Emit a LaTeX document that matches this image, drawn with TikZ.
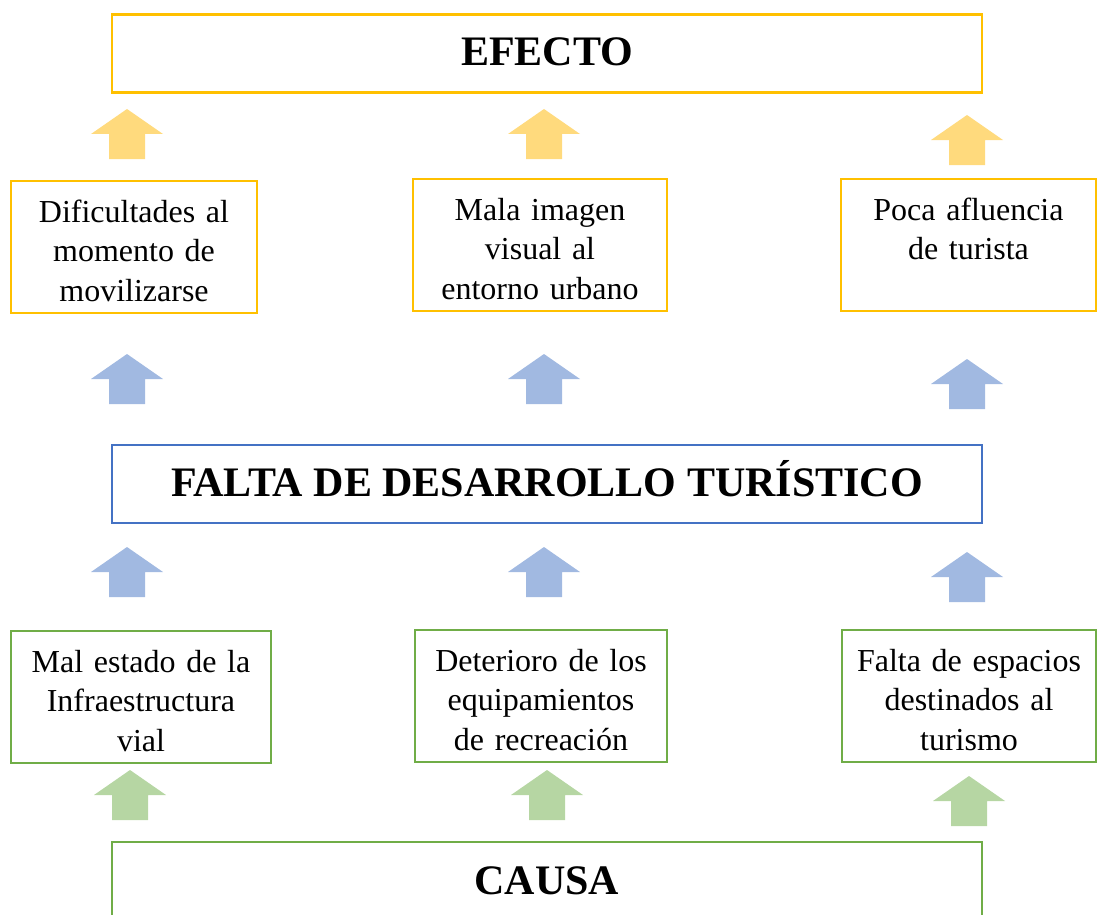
\documentclass[tikz,border=0pt]{standalone}
\usepackage{fontspec}
\setmainfont{Liberation Serif}
\usetikzlibrary{calc}
\definecolor{efeline}{HTML}{FFC000}
\definecolor{efearrow}{HTML}{FFDA7D}
\definecolor{proline}{HTML}{4472C4}
\definecolor{proarrow}{HTML}{A1B9E1}
\definecolor{cauline}{HTML}{70AD47}
\definecolor{cauarrow}{HTML}{B6D6A3}
\def\blockarrow[#1](#2,#3){\fill[#1] (#2,#3) -- ++(36,25) -- ++(-18,0) -- ++(0,25) -- ++(-36,0) -- ++(0,-25) -- ++(-18,0) -- cycle;}
\tikzset{
	titlebox/.style={draw=#1, line width=2.2pt, minimum width=870pt, minimum height=78pt, inner sep=0pt, text height=28pt, text depth=4pt, font=\fontsize{42}{50}\selectfont\bfseries},
	cellbox/.style={line width=2.2pt, inner sep=0pt, align=center, text width=#1, text height=41pt, text depth=91pt, font=\fontsize{32}{39.5}\selectfont, anchor=north},
}
\begin{document}
\begin{tikzpicture}[x=1pt, y=-1pt]
		%%%%% START %%%%%
		\useasboundingbox (0,0) rectangle (1097,915);
		
		\node[titlebox=efeline] (efecto) at (547,53.5) {EFECTO};
		
		\blockarrow[efearrow](127,109)
		\blockarrow[efearrow](544,109)
		\blockarrow[efearrow](967,115)
		
		\node[cellbox=246pt, draw=efeline] (dificultad) at (134,180) {Dificultades al\\momento de\\movilizarse};
		\node[cellbox=254pt, draw=efeline] (imagen) at (540,178) {Mala imagen\\visual al\\entorno urbano};
		\node[cellbox=255pt, draw=efeline] (afluencia) at (968.5,178) {Poca afluencia\\de turista};
		
		\blockarrow[proarrow](127,354)
		\blockarrow[proarrow](544,354)
		\blockarrow[proarrow](967,359)
		
		\node[titlebox=proline] (falta) at (547,484) {FALTA DE DESARROLLO TURÍSTICO};
		
		\blockarrow[proarrow](127,547)
		\blockarrow[proarrow](544,547)
		\blockarrow[proarrow](967,552)
		
		\node[cellbox=260pt, draw=cauline] (vial) at (141,630) {Mal estado de la\\Infraestructura\\vial};
		\node[cellbox=252pt, draw=cauline] (equipo) at (541,629) {Deterioro de los\\equipamientos\\de recreación};
		\node[cellbox=254pt, draw=cauline] (espacio) at (969,629) {Falta de espacios\\destinados al\\turismo};
		
		\blockarrow[cauarrow](130,770)
		\blockarrow[cauarrow](547,770)
		\blockarrow[cauarrow](969,776)
		
		\node[titlebox=cauline, minimum height=80pt] (causa) at (547,882) {CAUSA};
		%%%%% END %%%%%
\end{tikzpicture}
\end{document}
